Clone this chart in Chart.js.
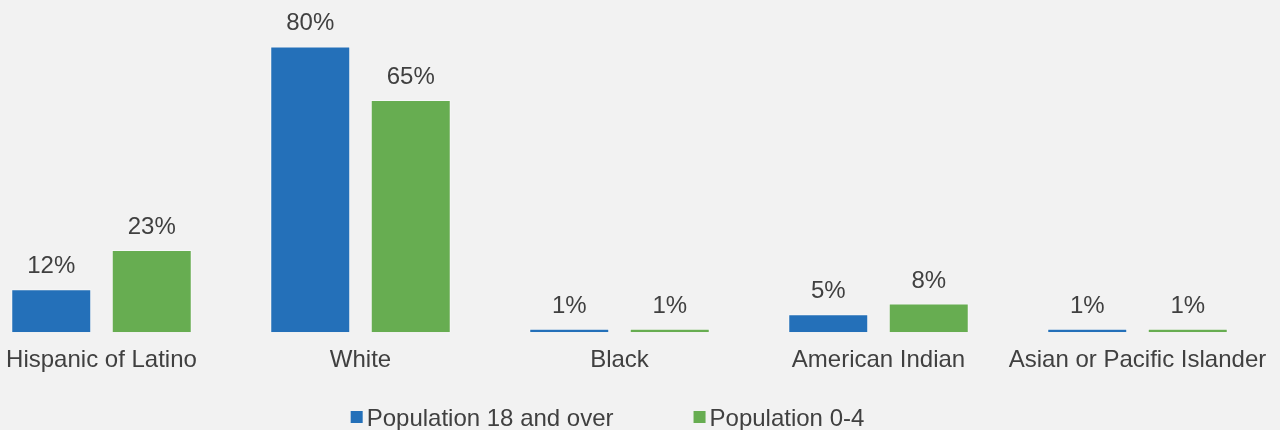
<!DOCTYPE html>
<html>
<head>
<meta charset="utf-8">
<script src="https://cdn.jsdelivr.net/npm/chart.js@4"></script>
<style>
  html, body { margin: 0; padding: 0; background: #f2f2f2; overflow: hidden; }
  #wrap { position: absolute; left: -28px; top: 0; width: 1295px; height: 430px; }
</style>
</head>
<body>
<div id="wrap"><canvas id="raceChart"></canvas></div>
<script>
const categories = ['Hispanic of Latino', 'White', 'Black', 'American Indian', 'Asian or Pacific Islander'];
const adults = [12, 80, 1, 5, 1];
const children = [23, 65, 1, 8, 1];
const seriesNames = ['Population 18 and over', 'Population 0-4'];
const seriesColors = ['#2470b9', '#67ad51'];

const textColor = '#404040';
const fontFamily = '"Liberation Sans", Arial, sans-serif';

// percentage labels above each bar
const valueLabels = {
  id: 'valueLabels',
  afterDatasetsDraw(chart) {
    const c = chart.ctx;
    c.save();
    c.font = '24px ' + fontFamily;
    c.fillStyle = textColor;
    c.textAlign = 'center';
    c.textBaseline = 'alphabetic';
    chart.data.datasets.forEach((ds, i) => {
      chart.getDatasetMeta(i).data.forEach((bar, j) => {
        c.fillText(ds.data[j] + '%', bar.x, bar.y - 16);
      });
    });
    c.restore();
  }
};

// legend drawn by hand so the square/text spacing matches
const squareLegend = {
  id: 'squareLegend',
  afterDraw(chart) {
    const c = chart.ctx;
    const box = 12, gapText = 4, gapItem = 80;
    c.save();
    c.font = '24px ' + fontFamily;
    const widths = chart.data.datasets.map(ds => c.measureText(ds.label).width);
    let total = 0;
    widths.forEach((w, i) => { total += box + gapText + w + (i ? gapItem : 0); });
    let x = (chart.chartArea.left + chart.chartArea.right) / 2 - 12 - total / 2;
    const cy = 417;
    chart.data.datasets.forEach((ds, i) => {
      c.fillStyle = ds.backgroundColor;
      c.fillRect(x, cy - box / 2, box, box);
      x += box + gapText;
      c.fillStyle = textColor;
      c.textAlign = 'left';
      c.textBaseline = 'alphabetic';
      c.fillText(ds.label, x, cy + 8.5);
      x += widths[i] + gapItem;
    });
    c.restore();
  }
};

const ctx = document.getElementById('raceChart').getContext('2d');
const chart = new Chart(ctx, {
  type: 'bar',
  data: {
    labels: categories,
    datasets: [
      {
        label: seriesNames[0],
        data: adults,
        backgroundColor: seriesColors[0],
        borderColor: 'rgba(255, 255, 255, 0.45)',
        borderWidth: 1,
        categoryPercentage: 0.776,
        barPercentage: 0.796,
      },
      {
        label: seriesNames[1],
        data: children,
        backgroundColor: seriesColors[1],
        borderColor: 'rgba(255, 255, 255, 0.45)',
        borderWidth: 1,
        categoryPercentage: 0.776,
        barPercentage: 0.796,
      },
    ],
  },
  options: {
    responsive: true,
    maintainAspectRatio: false,
    animation: false,
    layout: { padding: { top: 0, bottom: 41, left: 0, right: 0 } },
    scales: {
      y: {
        display: false,
        min: 0,
        max: 93,
      },
      x: {
        grid: { display: false, drawTicks: false },
        border: { display: false },
        ticks: {
          color: textColor,
          font: { family: fontFamily, size: 24 },
          padding: 14,
          maxRotation: 0,
          autoSkip: false,
        },
        afterFit(scale) {
          scale.paddingLeft = 0;
          scale.paddingRight = 0;
        },
      },
    },
    plugins: {
      tooltip: { enabled: false },
      legend: { display: false },
    },
  },
  plugins: [valueLabels, squareLegend],
});
</script>
</body>
</html>
